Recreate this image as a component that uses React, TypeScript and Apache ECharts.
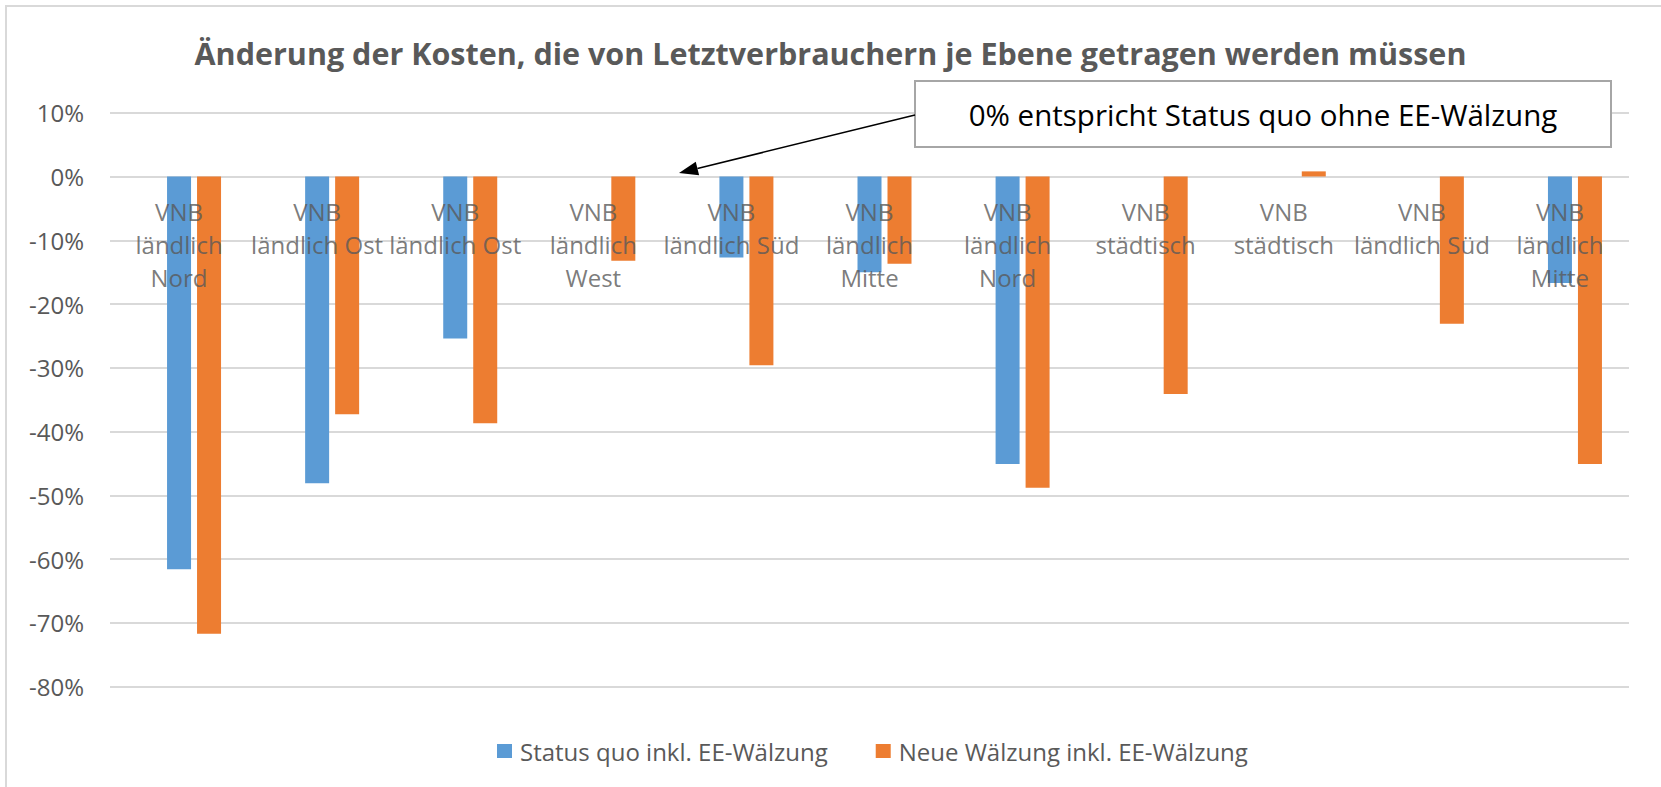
import React, { useEffect, useRef } from "react";
import * as echarts from "echarts";

const categories = [
  "VNB ländlich Nord",
  "VNB ländlich Ost",
  "VNB ländlich Ost",
  "VNB ländlich West",
  "VNB ländlich Süd",
  "VNB ländlich Mitte",
  "VNB ländlich Nord",
  "VNB städtisch",
  "VNB städtisch",
  "VNB ländlich Süd",
  "VNB ländlich Mitte",
];

// Hidden reference series (0% = Status quo ohne EE-Wälzung)
const statusQuoOhne = [0, 0, 0, 0, 0, 0, 0, 0, 0, 0, 0];
const statusQuoInkl = [-61.6, -48.1, -25.4, 0, -12.7, -15.0, -45.1, 0, 0, 0, -16.7];
const neueWaelzung = [-71.7, -37.3, -38.7, -13.2, -29.6, -13.7, -48.8, -34.1, 0.8, -23.1, -45.1];

const seriesNames = [
  "Status quo ohne EE-Wälzung",
  "Status quo inkl. EE-Wälzung",
  "Neue Wälzung inkl. EE-Wälzung",
];

const FONT = "'Open Sans', 'Noto Sans', sans-serif";
const GREY = "#595959";

function wrapCategory(v: string): string {
  const parts = v.split(" ");
  const first = parts[0];
  const rest = parts.slice(1).join(" ");
  const restFmt = rest.length > 12 ? parts.slice(1).join("\n") : rest;
  return first + "\n" + restFmt;
}

export default function App() {
  const ref = useRef<HTMLDivElement>(null);

  useEffect(() => {
    if (!ref.current) return;
    const chart = echarts.init(ref.current, null, { renderer: "svg" });

    // arrow geometry (annotation)
    const sx = 915, sy = 115, tx = 679, ty = 173;
    const dx = tx - sx, dy = ty - sy;
    const len = Math.sqrt(dx * dx + dy * dy);
    const ux = dx / len, uy = dy / len;
    const headLen = 19, headHalf = 7;
    const bx = tx - headLen * ux, by = ty - headLen * uy;
    const px = -uy, py = ux;

    chart.setOption({
      animation: false,
      backgroundColor: "#ffffff",
      title: {
        text: "Änderung der Kosten, die von Letztverbrauchern je Ebene getragen werden müssen",
        left: "center",
        top: 32,
        textStyle: {
          fontFamily: FONT,
          fontSize: 30.5,
          fontWeight: "bold",
          color: GREY,
        },
      },
      legend: {
        data: [seriesNames[1], seriesNames[2]],
        left: 492,
        top: 734,
        icon: "rect",
        itemWidth: 15,
        itemHeight: 14,
        itemGap: 48,
        textStyle: { fontFamily: FONT, fontSize: 24, color: GREY, padding: [0, 0, 0, 3] },
      },
      grid: { left: 110, right: 32, top: 112.7, bottom: 100.3, containLabel: false },
      xAxis: {
        type: "category",
        data: categories,
        axisLine: { show: false, onZero: true },
        axisTick: { show: false },
        splitLine: { show: false },
        axisLabel: { show: false },
      },
      yAxis: {
        type: "value",
        min: -80,
        max: 10,
        interval: 10,
        axisLine: { show: false },
        axisTick: { show: false },
        splitLine: { show: true, lineStyle: { color: "#d9d9d9", width: 2 } },
        axisLabel: {
          margin: 26,
          fontFamily: FONT,
          fontSize: 24,
          color: GREY,
          formatter: "{value}%",
        },
      },
      series: [
        {
          name: seriesNames[0],
          type: "bar",
          data: statusQuoOhne,
          barWidth: 24,
          barGap: "25%",
          itemStyle: { color: "rgba(0,0,0,0)" },
          silent: true,
        },
        {
          name: seriesNames[1],
          type: "bar",
          data: statusQuoInkl,
          barWidth: 24,
          barGap: "25%",
          itemStyle: { color: "#5b9bd5" },
        },
        {
          name: seriesNames[2],
          type: "bar",
          data: neueWaelzung,
          barWidth: 24,
          barGap: "25%",
          itemStyle: { color: "#ed7d31" },
        },
        {
          // category labels placed next to the 0% axis line
          name: "Kategorien",
          type: "scatter",
          data: categories.map(() => 0),
          symbolSize: 1,
          z: 10,
          silent: true,
          itemStyle: { color: "rgba(0,0,0,0)" },
          label: {
            show: true,
            position: "bottom",
            distance: 18,
            formatter: (p: any) => wrapCategory(categories[p.dataIndex]),
            fontFamily: FONT,
            fontSize: 24,
            lineHeight: 33,
            color: GREY,
            align: "center",
          },
        },
      ],
      graphic: [
        {
          type: "rect",
          z: 100,
          shape: { x: 6, y: 6, width: 1700, height: 900 },
          style: { fill: "none", stroke: "#d9d9d9", lineWidth: 2 },
          silent: true,
        },
        {
          type: "rect",
          z: 100,
          shape: { x: 915, y: 81, width: 696, height: 66 },
          style: { fill: "#ffffff", stroke: "#a6a6a6", lineWidth: 2 },
        },
        {
          type: "text",
          z: 101,
          x: 1263,
          y: 114,
          style: {
            text: "0% entspricht Status quo ohne EE-Wälzung",
            fontFamily: FONT,
            fontSize: 29.5,
            fill: "#000000",
            align: "center",
            verticalAlign: "middle",
          },
        },
        {
          type: "line",
          z: 100,
          shape: { x1: sx, y1: sy, x2: bx, y2: by },
          style: { stroke: "#000000", lineWidth: 1.5 },
        },
        {
          type: "polygon",
          z: 100,
          shape: {
            points: [
              [tx, ty],
              [bx + headHalf * px, by + headHalf * py],
              [bx - headHalf * px, by - headHalf * py],
            ],
          },
          style: { fill: "#000000" },
        },
      ],
    });

    return () => chart.dispose();
  }, []);

  return (
    <div
      ref={ref}
      style={{ position: "fixed", left: 0, top: 0, width: 1661, height: 787 }}
    />
  );
}
